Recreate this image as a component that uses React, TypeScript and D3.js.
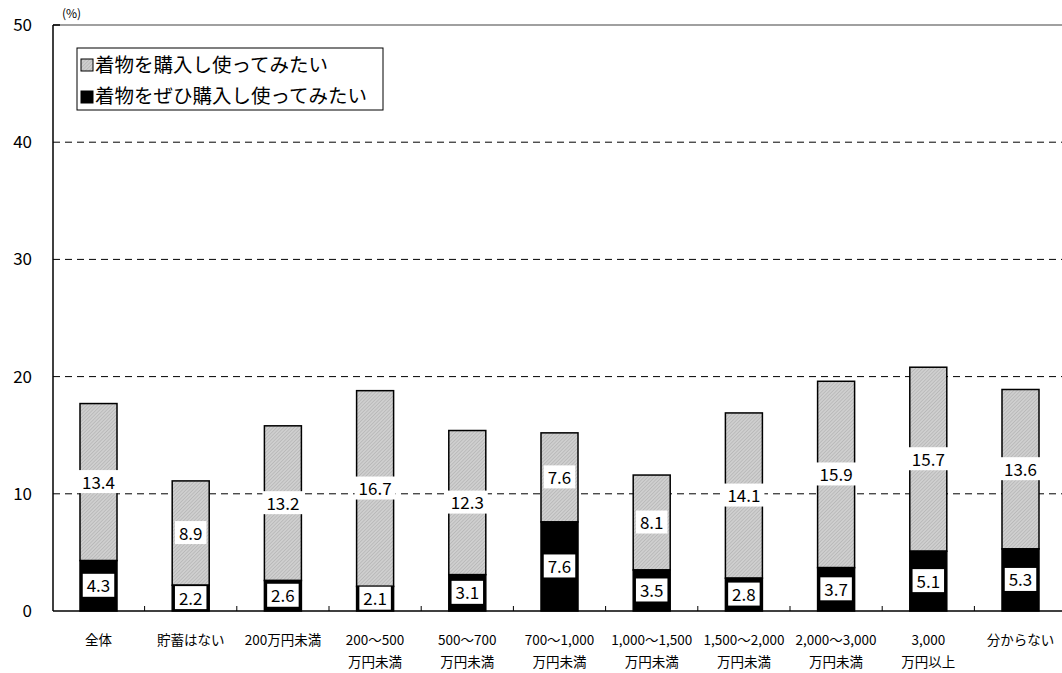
import { scaleBand, scaleLinear } from "d3";

// categories (two-line labels)
const categories = [
  ["全体"],
  ["貯蓄はない"],
  ["200万円未満"],
  ["200～500", "万円未満"],
  ["500～700", "万円未満"],
  ["700～1,000", "万円未満"],
  ["1,000～1,500", "万円未満"],
  ["1,500～2,000", "万円未満"],
  ["2,000～3,000", "万円未満"],
  ["3,000", "万円以上"],
  ["分からない"],
];
const mustBuy = [4.3, 2.2, 2.6, 2.1, 3.1, 7.6, 3.5, 2.8, 3.7, 5.1, 5.3];
const wantBuy = [13.4, 8.9, 13.2, 16.7, 12.3, 7.6, 8.1, 14.1, 15.9, 15.7, 13.6];
const yTicks = [0, 10, 20, 30, 40, 50];
const legendLabels = ["着物を購入し使ってみたい", "着物をぜひ購入し使ってみたい"];

const W = 1062;
const H = 673;
const left = 53;
const step = 92.2;
const top = 25;
const bottom = 611;
const font = "'Noto Sans CJK JP', 'DejaVu Sans', sans-serif";

const App = () => {
  const ids = categories.map((_, i) => String(i));
  const x = scaleBand().domain(ids).range([left - 0.6, left - 0.6 + step * ids.length]).padding(0);
  const y = scaleLinear().domain([0, 50]).range([bottom, top]);
  const bw = 37;

  const ValueLabel = ({ cx, cy, text }: { cx: number; cy: number; text: string }) => {
    const w = text.length * 9.5 + 3;
    return (
      <g>
        <rect x={cx - w / 2} y={cy - 12} width={w} height={23} fill="#fff" />
        <text x={cx} y={cy + 6.5} textAnchor="middle" fontSize={17} fontFamily={font} fill="#000">
          {text}
        </text>
      </g>
    );
  };

  return (
    <svg width={W} height={H} style={{ position: "absolute", left: 0, top: 0, background: "#fff" }}>
      <defs>
        <pattern id="hatch" width="2.5" height="2.5" patternUnits="userSpaceOnUse" patternTransform="rotate(45)">
          <rect width="2.5" height="2.5" fill="#cfcfcf" />
          <line x1="0" y1="0" x2="0" y2="2.5" stroke="#a4a4a4" strokeWidth="0.9" />
        </pattern>
      </defs>

      {/* top border */}
      <line x1={left} x2={W} y1={y(50)} y2={y(50)} stroke="#808080" strokeWidth={1.5} />
      <line x1={left} x2={left + 7} y1={y(50)} y2={y(50)} stroke="#000" strokeWidth={1.5} />

      {/* gridlines */}
      {yTicks
        .filter((t) => t > 0 && t < 50)
        .map((t) => (
          <line
            key={t}
            x1={left}
            x2={W}
            y1={y(t)}
            y2={y(t)}
            stroke="#000"
            strokeWidth={1}
            strokeDasharray="7,5"
          />
        ))}

      {/* y tick labels */}
      {yTicks.map((t) => (
        <text key={t} x={32} y={y(t) + 6} textAnchor="end" fontSize={17} fontFamily={font} fill="#000">
          {t}
        </text>
      ))}
      <text x={62} y={18} fontSize={12} fontFamily={font} fill="#000">
        (%)
      </text>

      {/* bars */}
      {ids.map((id, i) => {
        const cx = x(id)! + x.bandwidth() / 2;
        const b = mustBuy[i];
        const g = wantBuy[i];
        return (
          <g key={id}>
            <rect
              x={cx - bw / 2}
              y={y(b + g)}
              width={bw}
              height={y(b) - y(b + g)}
              fill="url(#hatch)"
              stroke="#000"
              strokeWidth={1.5}
            />
            <rect
              x={cx - bw / 2}
              y={y(b)}
              width={bw}
              height={y(0) - y(b)}
              fill="#000"
              stroke="#000"
              strokeWidth={1.5}
            />
          </g>
        );
      })}

      {/* axes */}
      <line x1={left} x2={left} y1={y(50)} y2={y(0)} stroke="#000" strokeWidth={1.5} />
      <line x1={left} x2={W} y1={y(0)} y2={y(0)} stroke="#000" strokeWidth={1.5} />
      {ids.slice(1).map((id) => (
        <line key={id} x1={x(id)!} x2={x(id)!} y1={y(0)} y2={y(0) - 5} stroke="#000" strokeWidth={1} />
      ))}

      {/* value labels */}
      {ids.map((id, i) => {
        const cx = x(id)! + x.bandwidth() / 2;
        const b = mustBuy[i];
        const g = wantBuy[i];
        return (
          <g key={id}>
            <ValueLabel cx={cx} cy={y(b + g / 2)} text={g.toFixed(1)} />
            <ValueLabel cx={cx} cy={Math.min(y(b / 2), y(0) - 12)} text={b.toFixed(1)} />
          </g>
        );
      })}

      {/* x labels */}
      {ids.map((id, i) => {
        const cx = x(id)! + x.bandwidth() / 2;
        return (
          <text key={id} textAnchor="middle" fontSize={13.5} fontFamily={font} fill="#000">
            {categories[i].map((line, j) => (
              <tspan key={j} x={cx} y={645 + j * 22}>
                {line}
              </tspan>
            ))}
          </text>
        );
      })}

      {/* legend */}
      <rect x={77} y={48} width={306} height={62} fill="#fff" stroke="#000" strokeWidth={1} />
      <rect x={81} y={59} width={12} height={12} fill="url(#hatch)" stroke="#000" strokeWidth={1} />
      <rect x={81} y={91} width={12} height={12} fill="#000" stroke="#000" strokeWidth={1} />
      {legendLabels.map((l, i) => (
        <text key={l} x={95} y={72 + i * 31} fontSize={19.5} fontFamily={font} fill="#000">
          {l}
        </text>
      ))}
    </svg>
  );
};

export default App;
